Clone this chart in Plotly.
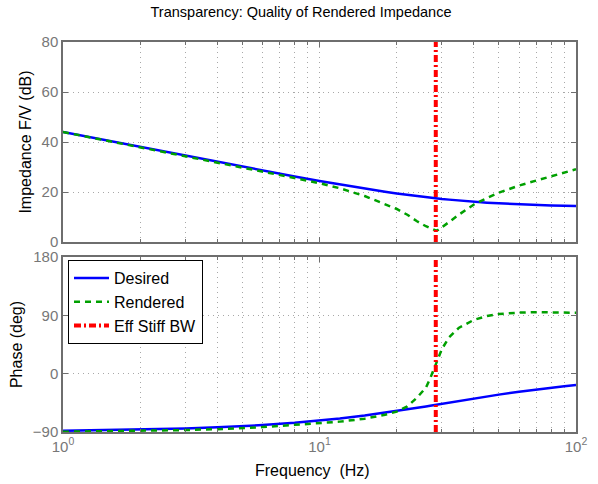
import plotly.graph_objects as go
from plotly.subplots import make_subplots

# ---------------- data ----------------
freq_hz = [1, 1.5, 2, 3, 4, 5, 6, 8, 10, 12, 15, 18, 20, 22, 24, 26, 27, 28, 28.5,
           29, 30, 32, 35, 40, 45, 50, 60, 70, 80, 90, 100]

desired_mag_db = [43.99, 40.48, 37.99, 34.49, 32.02, 30.12, 28.58, 26.20, 24.41, 23.00,
                  21.35, 20.10, 19.43, 18.86, 18.36, 17.93, 17.74, 17.56, 17.47, 17.39,
                  17.23, 16.95, 16.58, 16.10, 15.73, 15.45, 15.05, 14.79, 14.61, 14.49, 14.40]

rendered_mag_db = [44.0, 40.45, 37.93, 34.35, 31.8, 29.8, 28.2, 25.6, 23.5, 21.5,
                   18.4, 15.1, 13.2, 10.9, 8.3, 6.3, 5.5, 4.8, 4.5, 4.8,
                   5.8, 8.0, 11.0, 15.0, 17.6, 19.7, 22.6, 24.6, 26.4, 27.9, 29.1]

desired_phase_deg = [-88.19, -87.29, -86.39, -84.59, -82.81, -81.03, -79.28, -75.83, -72.48, -69.25,
                     -64.66, -60.40, -57.73, -55.22, -52.85, -50.62, -49.56, -48.52, -48.02, -47.53,
                     -46.56, -44.71, -42.15, -38.38, -35.15, -32.36, -27.83, -24.35, -21.60, -19.39, -17.58]

rendered_phase_deg = [-89.6, -89.0, -88.3, -87.0, -85.6, -84.0, -82.4, -79.0, -76.5, -74.0,
                      -69.5, -63.5, -58.5, -50.5, -37.0, -21.5, -7.5, 9.0, 17.0, 24.5,
                      38.0, 56.0, 71.0, 83.0, 89.0, 92.0, 94.2, 94.8, 94.8, 94.5, 94.0]

eff_stiff_bw_hz = 28.4

mag_range = [0, 80]
mag_ticks = [0, 20, 40, 60, 80]
phase_range = [-90, 180]
phase_ticks = [-90, 0, 90, 180]
x_ticks = [1, 10, 100]
x_ticklabels = ["10<sup>0</sup>", "10<sup>1</sup>", "10<sup>2</sup>"]
x_minor = [2, 3, 4, 5, 6, 7, 8, 9, 20, 30, 40, 50, 60, 70, 80, 90]

# ---------------- styling ----------------
BLUE = "#0000ff"
GREEN = "#00a000"
RED = "#ff0000"
AX = "#6e6e6e"
GRID = "#a8a8a8"
GRIDDASH = "1px,4px"
FAM = "Liberation Sans, Arial, sans-serif"
TICKFONT = dict(family=FAM, size=15, color="#777777")
LABFONT = dict(family=FAM, size=16, color="#000000")

W, H = 598, 484
L, R, T, B = 63, 22, 42, 52
ph = H - T - B  # 390
top_dom = [(432 - 242) / ph, 1.0]
bot_dom = [0.0, (432 - 257) / ph]

fig = make_subplots(rows=2, cols=1, shared_xaxes=True)

green_line = dict(color=GREEN, width=2.5, dash="6px,5px")
red_line = dict(color=RED, width=4, dash="7px,3px,2px,3px")
blue_line = dict(color=BLUE, width=2.5)

# magnitude
fig.add_trace(go.Scatter(x=freq_hz, y=desired_mag_db, mode="lines", name="Desired",
                         line=blue_line, showlegend=True, legendgroup="d"), row=1, col=1)
fig.add_trace(go.Scatter(x=freq_hz, y=rendered_mag_db, mode="lines", name="Rendered",
                         line=green_line, showlegend=True, legendgroup="r"), row=1, col=1)
fig.add_trace(go.Scatter(x=[eff_stiff_bw_hz, eff_stiff_bw_hz], y=mag_range, mode="lines",
                         name="Eff Stiff BW", line=red_line,
                         showlegend=True, legendgroup="e"), row=1, col=1)
# phase
fig.add_trace(go.Scatter(x=freq_hz, y=desired_phase_deg, mode="lines", name="Desired",
                         line=blue_line, showlegend=False, legendgroup="d"), row=2, col=1)
fig.add_trace(go.Scatter(x=freq_hz, y=rendered_phase_deg, mode="lines", name="Rendered",
                         line=green_line, showlegend=False, legendgroup="r"), row=2, col=1)
fig.add_trace(go.Scatter(x=[eff_stiff_bw_hz, eff_stiff_bw_hz], y=phase_range, mode="lines",
                         name="Eff Stiff BW", line=red_line,
                         showlegend=False, legendgroup="e"), row=2, col=1)

xcommon = dict(type="log", range=[0, 2], tickmode="array", tickvals=x_ticks,
               ticktext=x_ticklabels, ticks="inside", ticklen=5, tickcolor=AX,
               showline=True, linecolor=AX, linewidth=1.5, mirror="ticks",
               showgrid=True, gridcolor=GRID, griddash=GRIDDASH, gridwidth=1,
               zeroline=False, tickfont=TICKFONT,
               minor=dict(tickmode="array", tickvals=x_minor, ticks="inside", ticklen=3,
                          tickcolor=AX, showgrid=True, gridcolor=GRID, griddash=GRIDDASH,
                          gridwidth=1))
ycommon = dict(ticks="inside", ticklen=5, tickcolor=AX, showline=True, linecolor=AX,
               linewidth=1.5, mirror="ticks", showgrid=True, gridcolor=GRID,
               griddash=GRIDDASH, gridwidth=1, zeroline=False, tickfont=TICKFONT)

fig.update_xaxes(**xcommon)
fig.update_xaxes(showticklabels=False, row=1, col=1)
fig.update_xaxes(showticklabels=True, row=2, col=1)

fig.update_yaxes(**ycommon)
fig.update_yaxes(range=mag_range, tickmode="array", tickvals=mag_ticks, domain=top_dom,
                 title=dict(text="Impedance F/V (dB)", font=LABFONT, standoff=6),
                 row=1, col=1)
fig.update_yaxes(range=phase_range, tickmode="array", tickvals=phase_ticks, domain=bot_dom,
                 title=dict(text="Phase (deg)", font=LABFONT, standoff=6),
                 row=2, col=1)

fig.add_annotation(text="Frequency\u00a0 (Hz)", xref="paper", yref="paper",
                   x=(312.5 - L) / (W - L - R), y=(432 - 470) / ph,
                   xanchor="center", yanchor="middle", showarrow=False, font=LABFONT)

fig.update_layout(
    width=W, height=H,
    margin=dict(l=L, r=R, t=T, b=B),
    paper_bgcolor="white", plot_bgcolor="white",
    title=dict(text="Transparency: Quality of Rendered Impedance",
               font=dict(family=FAM, size=14.5, color="#000000"),
               x=301 / W, xanchor="center", xref="container",
               y=1 - 12 / H, yanchor="middle", yref="container"),
    legend=dict(x=(68 - L) / (W - L - R), y=(432 - 260) / ph, xanchor="left", yanchor="top",
                bgcolor="white", bordercolor="#000000", borderwidth=1,
                font=dict(family=FAM, size=16, color="#000000"),
                tracegroupgap=0, itemwidth=35),
    showlegend=True,
)

fig.write_html("out.html")
